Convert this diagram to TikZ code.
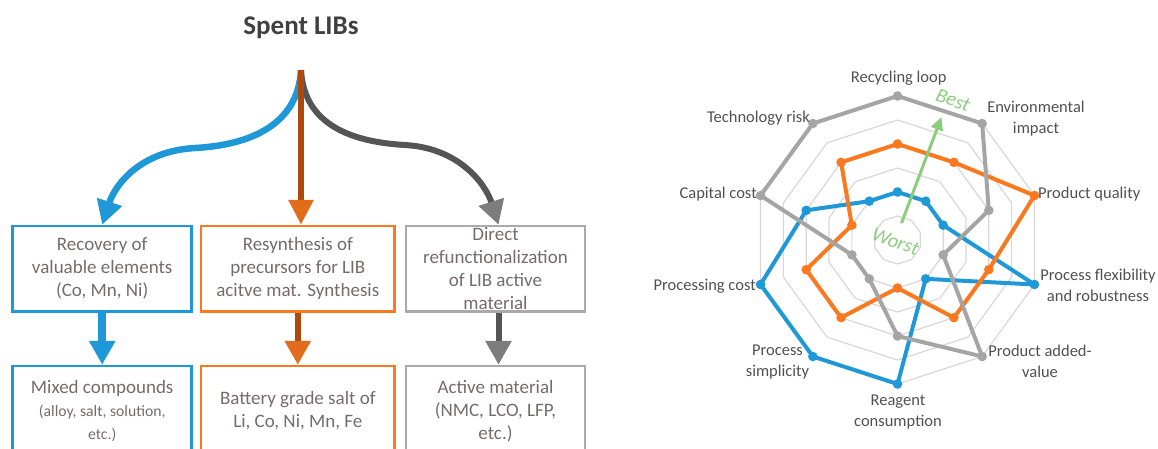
\documentclass[tikz,border=0pt]{standalone}
\usepackage{fontspec}
\setmainfont{Carlito}
\usetikzlibrary{arrows.meta}
\usetikzlibrary{calc}
\definecolor{libblue}{RGB}{30,152,215}
\definecolor{liborange}{RGB}{250,120,30}
\definecolor{libgray}{RGB}{165,165,165}
\definecolor{boxgray}{RGB}{170,170,170}
\definecolor{boxtext}{RGB}{115,108,106}
\definecolor{labeltext}{RGB}{80,80,80}
\definecolor{ringgray}{RGB}{215,215,215}
\definecolor{bestgreen}{RGB}{140,205,125}
\definecolor{brownshaft}{RGB}{175,72,12}
\definecolor{darkshaft}{RGB}{85,85,85}
\definecolor{grayhead}{RGB}{125,125,125}
\newcommand{\smallline}{\fontsize{15.7}{20}\selectfont}
\tikzstyle{box}=[draw, line width=2.5pt, align=center, text=boxtext, inner sep=0pt, font=\fontsize{19}{23}\selectfont]
\tikzstyle{toprow}=[box, minimum height=85.5pt]
\tikzstyle{botrow}=[box, minimum height=90pt]
\tikzstyle{axislabel}=[text=labeltext, align=center, inner sep=0pt, font=\fontsize{16.5}{21}\selectfont]
\tikzstyle{bigtip}=[-{Triangle[width=25pt,length=24pt]}]

\begin{document}
\begin{tikzpicture}[x=1pt, y=-1pt]
\useasboundingbox (0,0) rectangle (1158,448);
\clip (0,0) rectangle (1158,448);

%Spent LIBs
\node[text=black!75, font=\fontsize{27}{30}\selectfont\bfseries] (spent) at (301,28) {Spent LIBs};
\coordinate (fork) at (301,70);

\node[toprow, draw=libblue, minimum width=179pt] (rec) at (102.2,268.75) {Recovery of\\valuable elements\\(Co, Mn, Ni)};
\node[toprow, draw=liborange, minimum width=193.5pt] (res) at (297.8,268.75) {Resynthesis of\\precursors for LIB\\acitve mat. Synthesis};
\node[toprow, draw=boxgray, minimum width=179pt] (dir) at (495.5,268.75) {Direct\\refunctionalization\\of LIB active\\material};

\node[botrow, draw=libblue, minimum width=179pt] (mix) at (102.2,411) {Mixed compounds\\\smallline(alloy, salt, solution,\\\smallline etc.)};
\node[botrow, draw=liborange, minimum width=193.5pt] (salt) at (297.8,411) {Battery grade salt of\\Li, Co, Ni, Mn, Fe};
\node[botrow, draw=boxgray, minimum width=179pt] (act) at (495.5,411) {Active material\\(NMC, LCO, LFP,\\etc.)};

% arrows
\draw[libblue, line width=6.5pt, bigtip] (fork) .. controls (298,125) and (250,145) .. (195,148)
      .. controls (140,151) and (115,185) .. (rec.north);
\draw[darkshaft, line width=6pt, -{Triangle[width=25pt,length=24pt,color=grayhead]}] (fork) .. controls (304,125) and (352,142) .. (405,145)
      .. controls (460,148) and (486,185) .. ([xshift=3pt]dir.north);
\draw[brownshaft, line width=6pt, -{Triangle[width=24pt,length=25pt,color=liborange!90!black]}] (fork) -- (fork |- res.north);

\draw[libblue, line width=8pt, bigtip] (rec) -- (mix);
\draw[brownshaft, line width=6pt, -{Triangle[width=25pt,length=24pt,color=liborange!90!black]}] (res) -- (salt);
\draw[darkshaft, line width=6pt, -{Triangle[width=25pt,length=24pt,color=grayhead]}] ([xshift=3pt]dir.south) -- ([xshift=3pt]act.north);

%Radar
\def\u{24}
\begin{scope}[shift={(897.5,240)}]
  \foreach \r in {1,...,6}
    \draw[ringgray, line width=1.2pt] (-90:\r*\u) \foreach \k in {1,...,9}{ -- (36*\k-90:\r*\u)} -- cycle;

  \foreach \col/\vals in {libblue/{2,2,2,6,2,6,6,6,4,2}, liborange/{4,4,6,4,4,2,4,4,2,4}, libgray/{6,6,4,2,6,4,2,2,6,6}} {
    \foreach \v [count=\k from 0] in \vals
      \coordinate (\col\k) at (36*\k-90:\v*\u);
    \draw[\col, line width=4pt, line join=round] (\col0) -- (\col1) -- (\col2) -- (\col3) -- (\col4)
         -- (\col5) -- (\col6) -- (\col7) -- (\col8) -- (\col9) -- cycle;
    \foreach \k in {0,...,9}
      \fill[\col] (\col\k) circle[radius=4.8pt];
  }

  \coordinate (worst) at (4,-17);
  \coordinate (best) at (44,-123);
  \draw[bestgreen, line width=3pt, -{Triangle[width=12pt,length=13pt]}] (worst) -- (best);
  \node[bestgreen, rotate=-20, font=\fontsize{20}{22}\selectfont\itshape] (bestlbl) at (55.5,-140) {Best};
  \node[bestgreen, rotate=-20, font=\fontsize{20}{22}\selectfont\itshape] (worstlbl) at (-2,1.5) {Worst};
\end{scope}

\node[axislabel] (recyc) at (898.7,78) {Recycling loop};
\node[axislabel] (envimp) at (1036,119) {Environmental\\impact};
\node[axislabel, anchor=west] (prodq) at (1038,194) {Product quality};
\node[axislabel] (flex) at (1098,285.5) {Process flexibility\\and robustness};
\node[axislabel] (addval) at (1040,361) {Product added-\\value};
\node[axislabel] (reagent) at (898,411.7) {Reagent\\consumption};
\node[axislabel] (simpl) at (777.5,361.7) {Process\\simplicity};
\node[axislabel, anchor=east] (proccost) at (756,286.7) {Processing cost};
\node[axislabel, anchor=east] (capcost) at (757,194) {Capital cost};
\node[axislabel, anchor=east] (techrisk) at (810,118) {Technology risk};

\end{tikzpicture}
\end{document}
